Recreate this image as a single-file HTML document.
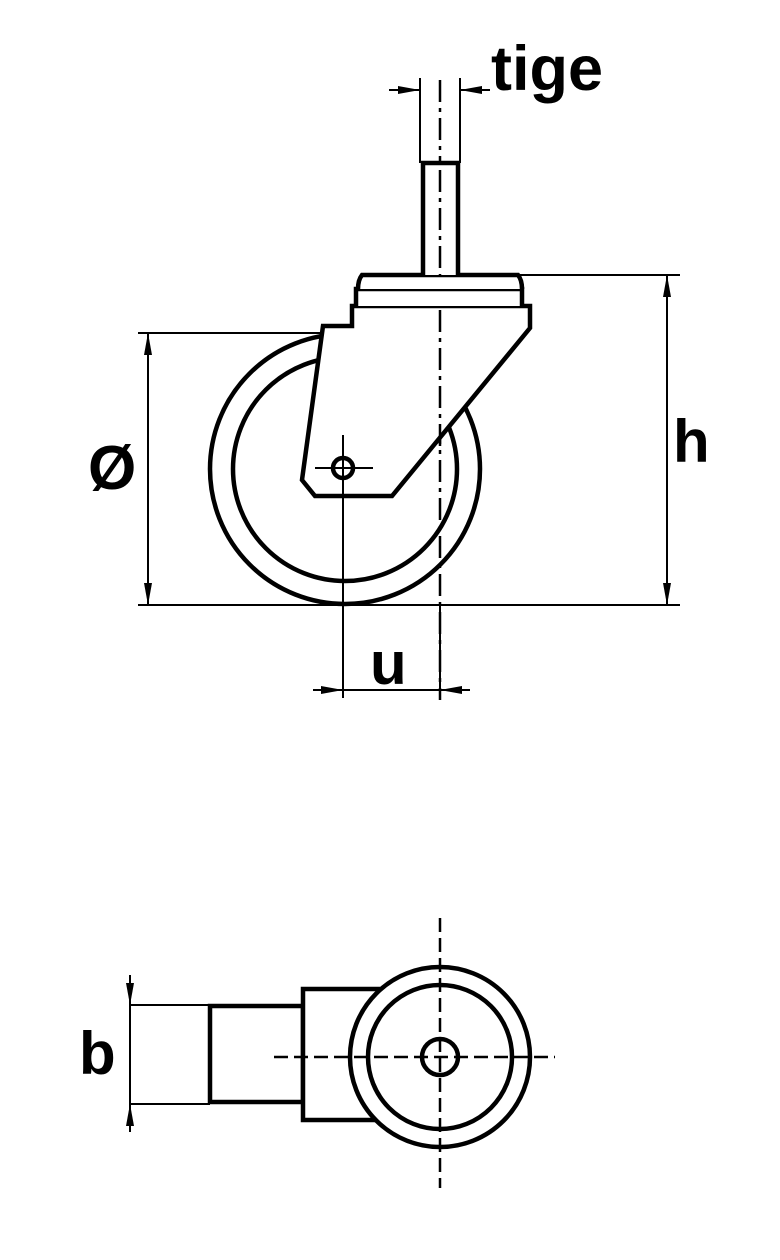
<!DOCTYPE html>
<html><head><meta charset="utf-8"><style>
html,body{margin:0;padding:0;background:#fff;}
svg{display:block;}
text{font-family:"Liberation Sans",Arial,sans-serif;font-weight:bold;fill:#000;}
</style></head><body>
<svg width="780" height="1260" viewBox="0 0 780 1260" xmlns="http://www.w3.org/2000/svg">
<defs>
<marker id="a" viewBox="0 0 22 8" refX="22" refY="4" markerWidth="22" markerHeight="8" markerUnits="userSpaceOnUse" orient="auto"><path d="M0,0 L22,4 L0,8z" fill="#000"/></marker>
</defs>
<g fill="none" stroke="#000">
<line x1="440" y1="80" x2="440" y2="700" stroke-width="2.5" stroke-dasharray="22,6,4,6"/>
<circle cx="345" cy="469" r="135" stroke-width="4.5"/>
<circle cx="345" cy="469" r="112" stroke-width="4.5"/>
<path d="M352,306 L530,306 L530,328 L392,496 L315,496 L302,480 L323,326 L352,326 Z" fill="#fff" stroke-width="4.5"/>
<path d="M356,306 L356,289 L522,289 L522,306" fill="#fff" stroke-width="4.5"/>
<path d="M358,289 Q358,280 362,275 L518,275 Q522,280 522,289" fill="#fff" stroke-width="4.5"/>
<path d="M423,275 L423,163 L458,163 L458,275" fill="#fff" stroke-width="4.5"/>
<line x1="440" y1="170" x2="440" y2="275" stroke-width="2.5" stroke-dasharray="22,6,4,6"/>
<line x1="440" y1="310" x2="440" y2="450" stroke-width="2.5" stroke-dasharray="22,6,4,6"/>
<circle cx="343" cy="468" r="10" stroke-width="4.5"/>
<line x1="315" y1="468" x2="373" y2="468" stroke-width="2"/>
<line x1="343" y1="435" x2="343" y2="698" stroke-width="2"/>
<line x1="420" y1="78" x2="420" y2="163" stroke-width="2"/>
<line x1="460" y1="78" x2="460" y2="163" stroke-width="2"/>
<line x1="389" y1="90" x2="420" y2="90" stroke-width="2" marker-end="url(#a)"/>
<line x1="490" y1="90" x2="460" y2="90" stroke-width="2" marker-end="url(#a)"/>
<line x1="520" y1="275" x2="680" y2="275" stroke-width="2"/>
<line x1="138" y1="605" x2="680" y2="605" stroke-width="2"/>
<line x1="667" y1="440" x2="667" y2="275" stroke-width="2" marker-end="url(#a)"/>
<line x1="667" y1="440" x2="667" y2="605" stroke-width="2" marker-end="url(#a)"/>
<line x1="138" y1="333" x2="322" y2="333" stroke-width="2"/>
<line x1="148" y1="470" x2="148" y2="333" stroke-width="2" marker-end="url(#a)"/>
<line x1="148" y1="470" x2="148" y2="605" stroke-width="2" marker-end="url(#a)"/>
<line x1="440" y1="605" x2="440" y2="698" stroke-width="2"/>
<line x1="313" y1="690" x2="343" y2="690" stroke-width="2" marker-end="url(#a)"/>
<line x1="343" y1="690" x2="440" y2="690" stroke-width="2"/>
<line x1="470" y1="690" x2="440" y2="690" stroke-width="2" marker-end="url(#a)"/>

<rect x="210" y="1006" width="93" height="96" stroke-width="4.5"/>
<path d="M380,989 L303,989 L303,1120 L380,1120" stroke-width="4.5" fill="#fff"/>
<circle cx="440" cy="1057" r="90" stroke-width="4.5" fill="#fff"/>
<circle cx="440" cy="1057" r="72" stroke-width="4.5"/>
<circle cx="440" cy="1057" r="18" stroke-width="4.5"/>
<line x1="440" y1="918" x2="440" y2="1188" stroke-width="2.5" stroke-dasharray="14,6"/>
<line x1="274" y1="1057" x2="555" y2="1057" stroke-width="2.5" stroke-dasharray="14,6"/>
<line x1="130" y1="1005" x2="210" y2="1005" stroke-width="2"/>
<line x1="130" y1="1104" x2="210" y2="1104" stroke-width="2"/>
<line x1="130" y1="975" x2="130" y2="1005" stroke-width="2" marker-end="url(#a)"/>
<line x1="130" y1="1005" x2="130" y2="1104" stroke-width="2"/>
<line x1="130" y1="1132" x2="130" y2="1104" stroke-width="2" marker-end="url(#a)"/>
</g>
<text x="491" y="90" font-size="63">tige</text>
<text x="673" y="462" font-size="60">h</text>
<text x="88" y="489" font-size="62">Ø</text>
<text x="370" y="684" font-size="60">u</text>
<text x="79" y="1074" font-size="60">b</text>
</svg>
</body></html>
